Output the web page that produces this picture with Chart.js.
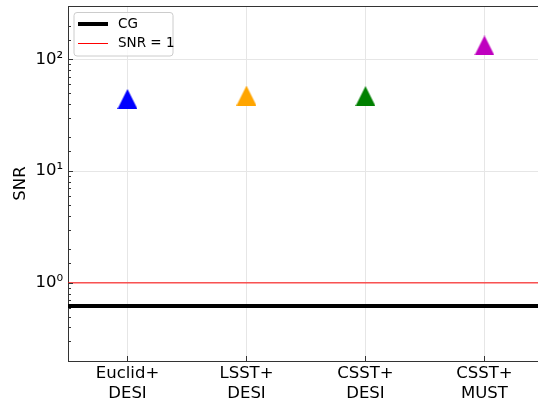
<!DOCTYPE html>
<html>
<head>
<meta charset="utf-8">
<script src="https://cdn.jsdelivr.net/npm/chart.js@4.4.0/dist/chart.umd.min.js"></script>
<style>
  html, body { margin: 0; padding: 0; background: #fff; }
  #wrap { width: 538px; height: 403px; }
</style>
</head>
<body>
<div id="wrap"><canvas id="myChart"></canvas></div>
<script>
const categories = [['Euclid+', 'DESI'], ['LSST+', 'DESI'], ['CSST+', 'DESI'], ['CSST+', 'MUST']];
const snrValues = [44.2, 47.4, 46.9, 133];
const markerColors = ['#0000ff', '#ffa500', '#008000', '#bf00bf'];
const cgValue = 0.62;
const snrOne = 1;
const yMin = 0.2, yMax = 300;

const font = 'DejaVu Sans';

// matplotlib style '^' marker: triangle centred on its bounding box
function makeTri(color) {
  const s = 20;
  const cv = document.createElement('canvas');
  cv.width = s; cv.height = s;
  const c = cv.getContext('2d');
  c.fillStyle = color;
  c.beginPath();
  c.moveTo(s / 2, 0);
  c.lineTo(s, s);
  c.lineTo(0, s);
  c.closePath();
  c.fill();
  return cv;
}

// ticks pointing inwards plus the top spine and the legend box
const extras = {
  id: 'extras',
  afterDraw(chart) {
    const c = chart.ctx, a = chart.chartArea;
    const xs = chart.scales.x, ys = chart.scales.y;
    c.save();
    c.strokeStyle = '#333';
    c.lineWidth = 1;
    c.beginPath();
    c.moveTo(a.left, a.top + 0.5);
    c.lineTo(a.right, a.top + 0.5);
    ys.ticks.forEach(t => {
      const lg = Math.log10(t.value);
      const major = Math.abs(lg - Math.round(lg)) < 1e-6;
      const y = Math.round(ys.getPixelForValue(t.value)) + 0.5;
      c.moveTo(a.left, y);
      c.lineTo(a.left + (major ? 5 : 3), y);
    });
    xs.ticks.forEach(t => {
      const x = Math.round(xs.getPixelForValue(t.value)) + 0.5;
      c.moveTo(x, a.bottom);
      c.lineTo(x, a.bottom - 5);
    });
    c.stroke();

    // legend
    const lx = 74, ly = 12.5, lw = 99, lh = 43.5, r = 3;
    c.beginPath();
    c.roundRect(lx, ly, lw, lh, r);
    c.fillStyle = 'rgba(255,255,255,0.8)';
    c.fill();
    c.strokeStyle = '#cccccc';
    c.lineWidth = 1;
    c.stroke();
    c.lineCap = 'butt';
    c.beginPath(); c.moveTo(78, 24); c.lineTo(108, 24);
    c.strokeStyle = '#000'; c.lineWidth = 4; c.stroke();
    c.beginPath(); c.moveTo(78, 43.5); c.lineTo(108, 43.5);
    c.strokeStyle = '#ff0000'; c.lineWidth = 1; c.stroke();
    c.fillStyle = '#000';
    c.font = '13.5px "' + font + '"';
    c.textBaseline = 'middle';
    c.fillText('CG', 118, 24);
    c.fillText('SNR = 1', 118, 43.5);
    c.restore();
  }
};

new Chart(document.getElementById('myChart'), {
  type: 'scatter',
  data: {
    datasets: [
      {
        label: 'CG',
        type: 'line',
        data: [{x: -1, y: cgValue}, {x: 5, y: cgValue}],
        borderColor: '#000',
        borderWidth: 4,
        pointRadius: 0
      },
      {
        label: 'SNR = 1',
        type: 'line',
        data: [{x: -1, y: snrOne}, {x: 5, y: snrOne}],
        borderColor: '#ff0000',
        borderWidth: 1,
        pointRadius: 0
      },
      {
        label: 'SNR',
        data: snrValues.map((v, i) => ({x: i, y: v})),
        pointStyle: markerColors.map(makeTri),
        pointRadius: 10,
        pointHoverRadius: 10,
        backgroundColor: markerColors,
        borderColor: markerColors,
        borderWidth: 0
      }
    ]
  },
  options: {
    responsive: true,
    maintainAspectRatio: false,
    animation: false,
    layout: { autoPadding: false, padding: { top: 6, right: 0, left: 0, bottom: 0 } },
    plugins: { legend: { display: false }, tooltip: { enabled: false } },
    scales: {
      x: {
        type: 'linear',
        min: -0.5,
        max: 3.45,
        afterBuildTicks: s => { s.ticks = categories.map((c, i) => ({value: i})); },
        afterFit: s => { s.height = 42; s.paddingLeft = 0; s.paddingRight = 0; },
        border: { color: '#333', width: 1 },
        grid: { color: '#e6e6e6', drawTicks: false },
        ticks: {
          autoSkip: false,
          maxRotation: 0,
          padding: 3,
          color: '#000',
          font: { family: font, size: 16.5 },
          callback: v => categories[v]
        }
      },
      y: {
        type: 'logarithmic',
        min: yMin,
        max: yMax,
        afterFit: s => { s.width = 68; s.paddingTop = 0; s.paddingBottom = 0; },
        border: { color: '#333', width: 1 },
        grid: {
          drawTicks: false,
          color: ctx => {
            const lg = Math.log10(ctx.tick.value);
            return Math.abs(lg - Math.round(lg)) < 1e-6 ? '#e6e6e6' : 'rgba(0,0,0,0)';
          }
        },
        title: {
          display: true,
          text: 'SNR',
          color: '#000',
          font: { family: font, size: 16.5 },
          padding: { top: 11, bottom: 0 }
        },
        ticks: {
          autoSkip: false,
          padding: 5,
          color: '#000',
          font: { family: font, size: 16.5 },
          callback: v => {
            const lg = Math.log10(v);
            if (Math.abs(lg - Math.round(lg)) > 1e-6) return '';
            return ['10⁰', '10¹', '10²'][Math.round(lg)] || '';
          }
        }
      }
    }
  },
  plugins: [extras]
});
</script>
</body>
</html>
